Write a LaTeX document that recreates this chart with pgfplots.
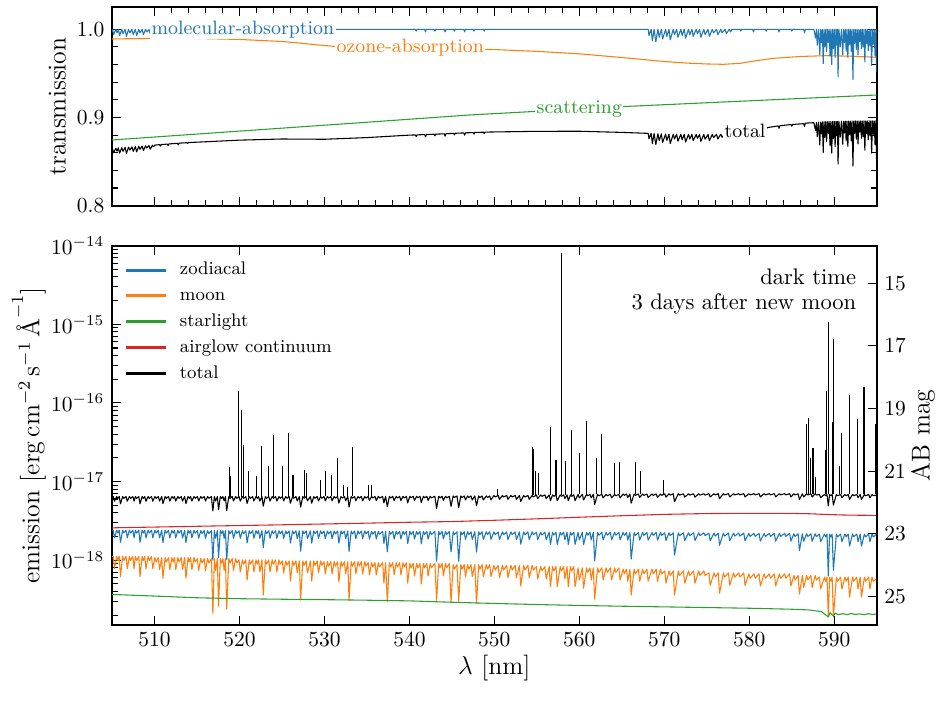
\documentclass[border=0pt]{standalone}
\usepackage{fontspec}
\usepackage{pgfplots}
\usepackage{pgfplotstable}
\pgfplotsset{compat=1.18}

\definecolor{cblue}{HTML}{1F77B4}
\definecolor{corange}{HTML}{FF7F0E}
\definecolor{cgreen}{HTML}{2CA02C}
\definecolor{cred}{HTML}{D62728}

% ---------- atmospheric transmission ----------
% molecular absorption and total transmission (ozone x scattering x molecular)
\pgfplotstableread{
l mol tot
505.00 1.000 0.8649
505.05 1.000 0.8649
505.20 0.994 0.8598
505.45 1.000 0.8652
505.60 0.996 0.8619
505.75 1.000 0.8655
505.90 0.993 0.8595
506.15 1.000 0.8658
506.30 0.995 0.8616
506.55 1.000 0.8661
506.70 0.992 0.8593
506.95 1.000 0.8664
507.10 0.996 0.8630
507.35 1.000 0.8667
507.50 0.994 0.8616
507.75 1.000 0.8670
507.90 0.993 0.8610
508.15 1.000 0.8673
508.30 0.996 0.8639
508.55 1.000 0.8676
508.70 0.994 0.8625
508.95 1.000 0.8679
509.10 0.997 0.8654
509.35 1.000 0.8682
509.50 0.995 0.8640
509.75 1.000 0.8685
509.90 0.998 0.8669
510.05 1.000 0.8687
510.60 1.000 0.8692
510.70 0.998 0.8675
510.80 1.000 0.8693
511.50 1.000 0.8698
511.60 0.998 0.8682
511.70 1.000 0.8700
512.70 1.000 0.8707
512.80 0.998 0.8690
512.90 1.000 0.8709
513.80 1.000 0.8714
513.90 0.999 0.8706
514.00 1.000 0.8716
515.00 1.000 0.8720
520.00 1.000 0.8743
525.00 1.000 0.8756
530.00 1.000 0.8753
535.00 1.000 0.8772
540.00 1.000 0.8800
540.70 1.000 0.8802
540.80 0.998 0.8785
540.90 1.000 0.8803
541.80 1.000 0.8806
541.90 0.997 0.8781
542.00 1.000 0.8807
542.90 1.000 0.8810
543.00 0.998 0.8793
543.10 1.000 0.8811
544.10 1.000 0.8815
544.20 0.997 0.8789
544.30 1.000 0.8816
545.20 1.000 0.8820
545.30 0.998 0.8803
545.40 1.000 0.8821
546.40 1.000 0.8825
546.50 0.997 0.8799
546.60 1.000 0.8826
547.50 1.000 0.8829
547.60 0.998 0.8812
547.70 1.000 0.8830
548.70 1.000 0.8833
548.80 0.998 0.8816
548.90 1.000 0.8834
550.00 1.000 0.8836
555.00 1.000 0.8843
560.00 1.000 0.8844
565.00 1.000 0.8831
568.10 1.000 0.8820
568.20 0.993 0.8758
568.45 1.000 0.8819
568.60 0.987 0.8704
568.80 1.000 0.8818
569.00 0.986 0.8694
569.25 1.000 0.8816
569.40 0.991 0.8737
569.65 1.000 0.8814
569.80 0.989 0.8717
570.15 1.000 0.8811
570.30 0.992 0.8740
570.55 1.000 0.8810
570.70 0.988 0.8704
571.05 1.000 0.8810
571.20 0.994 0.8757
571.45 1.000 0.8810
571.60 0.991 0.8731
571.95 1.000 0.8809
572.10 0.993 0.8747
572.35 1.000 0.8809
572.50 0.990 0.8721
572.85 1.000 0.8809
573.00 0.994 0.8756
573.25 1.000 0.8808
573.40 0.992 0.8738
573.75 1.000 0.8808
573.90 0.995 0.8764
574.15 1.000 0.8808
574.30 0.991 0.8729
574.65 1.000 0.8807
574.80 0.994 0.8754
575.15 1.000 0.8807
575.30 0.992 0.8737
575.65 1.000 0.8808
575.80 0.996 0.8773
576.15 1.000 0.8809
576.30 0.994 0.8756
576.65 1.000 0.8811
576.80 0.996 0.8776
577.15 1.000 0.8814
577.30 0.995 0.8774
577.65 1.000 0.8820
577.80 0.997 0.8796
577.95 1.000 0.8824
578.90 1.000 0.8836
579.00 0.998 0.8820
579.10 1.000 0.8839
580.40 1.000 0.8858
580.50 0.997 0.8833
580.60 1.000 0.8861
581.90 1.000 0.8882
582.00 0.998 0.8866
582.10 1.000 0.8885
583.40 1.000 0.8904
583.50 0.997 0.8878
583.60 1.000 0.8906
584.90 1.000 0.8920
585.00 0.998 0.8902
585.10 1.000 0.8921
586.40 1.000 0.8930
586.50 0.996 0.8899
586.60 1.000 0.8936
587.60 1.000 0.8941
587.80 0.990 0.8854
587.90 1.000 0.8944
588.00 0.982 0.8784
588.15 1.000 0.8946
588.30 0.971 0.8688
588.40 1.000 0.8948
588.50 0.985 0.8815
588.60 1.000 0.8950
588.70 0.961 0.8602
588.80 1.000 0.8952
588.90 0.980 0.8773
589.00 1.000 0.8953
589.10 0.975 0.8729
589.20 1.000 0.8953
589.30 0.985 0.8819
589.40 1.000 0.8954
589.50 0.970 0.8685
589.60 1.000 0.8954
589.70 0.960 0.8596
589.80 1.000 0.8955
589.90 0.978 0.8758
590.00 1.000 0.8955
590.10 0.968 0.8669
590.20 1.000 0.8955
590.30 0.982 0.8794
590.375 1.000 0.8956
590.45 0.946 0.8472
590.55 1.000 0.8956
590.70 0.980 0.8777
590.85 1.000 0.8957
591.00 0.971 0.8697
591.10 1.000 0.8957
591.20 0.985 0.8823
591.30 1.000 0.8958
591.40 0.975 0.8734
591.50 1.000 0.8958
591.60 0.968 0.8671
591.70 1.000 0.8959
591.80 0.983 0.8807
591.90 1.000 0.8959
592.00 0.975 0.8736
592.10 1.000 0.8960
592.20 0.943 0.8449
592.30 1.000 0.8960
592.40 0.984 0.8817
592.50 1.000 0.8960
592.60 0.977 0.8754
592.70 1.000 0.8960
592.80 0.971 0.8700
592.90 1.000 0.8960
593.00 0.986 0.8835
593.10 1.000 0.8961
593.20 0.978 0.8764
593.30 1.000 0.8961
593.40 0.980 0.8782
593.50 1.000 0.8961
593.60 0.963 0.8629
593.70 1.000 0.8961
593.80 0.984 0.8818
593.90 1.000 0.8961
594.00 0.976 0.8746
594.10 1.000 0.8962
594.20 0.981 0.8792
594.30 1.000 0.8962
594.40 0.959 0.8595
594.50 1.000 0.8962
594.60 0.983 0.8810
594.70 1.000 0.8962
594.80 0.970 0.8693
594.90 1.000 0.8962
594.97 0.952 0.8532
595.00 1.000 0.8962
}\trans

\pgfplotstableread{
l oz
505 0.9890
508 0.9895
511 0.9898
515 0.9896
520 0.9885
525 0.9862
527 0.9845
529 0.9825
531 0.9808
533 0.9800
535 0.9796
540 0.9790
545 0.9782
550 0.9770
555 0.9750
560 0.9722
565 0.9680
570 0.9635
573 0.9615
575 0.9607
577 0.9603
579 0.9615
580 0.9632
582 0.9660
583 0.9672
586 0.9692
589 0.9701
592 0.9695
595 0.9683
}\ozone

\pgfplotstableread{
l sc
505 0.8745
515 0.8812
525 0.8879
535 0.8946
547 0.9028
555 0.9070
565 0.9123
575 0.9167
585 0.9211
595 0.9255
}\scat

% ---------- sky emission, in units of 1e-18 erg/cm2/s/A ----------
% z = zodiacal light, m = scattered moonlight, t = total continuum
\pgfplotstableread[row sep=\\]{
l z m t\\
505.00 2.41 1.12 6.45\\ 505.15 2.41 1.12 6.45\\ 505.30 1.93 0.78 5.63\\
505.55 2.41 1.12 6.45\\ 505.70 2.22 0.99 6.12\\
505.85 2.41 1.12 6.45\\ 506.00 1.69 0.62 5.22\\
506.25 2.41 1.12 6.45\\ 506.40 2.22 0.99 6.12\\
506.65 2.41 1.12 6.45\\ 506.80 1.93 0.78 5.63\\
507.05 2.41 1.12 6.45\\ 507.20 2.22 0.99 6.12\\
507.45 2.41 1.12 6.45\\ 507.60 1.93 0.78 5.63\\
507.75 2.41 1.12 6.45\\ 507.90 2.22 0.99 6.12\\
508.15 2.41 1.12 6.45\\ 508.30 1.69 0.62 5.22\\
508.55 2.41 1.12 6.45\\ 508.70 2.22 0.99 6.12\\
508.85 2.41 1.12 6.45\\ 509.00 1.93 0.78 5.63\\
509.25 2.41 1.12 6.45\\ 509.40 2.22 0.99 6.12\\
509.65 2.41 1.12 6.45\\ 509.80 1.93 0.78 5.63\\
510.05 2.40 1.08 6.45\\ 510.20 2.21 0.95 6.13\\
510.45 2.40 1.08 6.45\\ 510.60 1.92 0.76 5.65\\
510.85 2.40 1.08 6.45\\ 511.00 1.68 0.59 5.24\\
511.25 2.40 1.08 6.45\\ 511.40 2.21 0.95 6.13\\
511.65 2.40 1.08 6.45\\ 511.80 1.92 0.76 5.65\\
512.05 2.40 1.08 6.45\\ 512.20 2.21 0.95 6.13\\
512.35 2.40 1.08 6.45\\ 512.50 1.92 0.76 5.65\\
512.75 2.40 1.08 6.45\\ 512.90 2.21 0.95 6.13\\
513.15 2.40 1.08 6.45\\ 513.30 1.92 0.76 5.65\\
513.55 2.40 1.08 6.45\\ 513.70 1.68 0.59 5.24\\
513.95 2.40 1.08 6.45\\ 514.10 2.21 0.95 6.13\\
514.25 2.40 1.08 6.45\\ 514.40 1.92 0.76 5.65\\
514.65 2.40 1.08 6.45\\ 514.80 2.21 0.95 6.13\\
515.05 2.38 1.05 6.45\\ 515.20 1.90 0.74 5.66\\
515.45 2.38 1.05 6.45\\ 515.60 2.19 0.92 6.13\\
515.85 2.38 1.05 6.45\\ 516.00 1.90 0.74 5.66\\
516.25 2.38 1.05 6.45\\ 516.40 2.19 0.92 6.13\\
516.70 2.38 1.05 6.45\\ 516.87 1.00 0.21 4.23\\
517.05 2.38 1.05 6.45\\ 517.20 1.90 0.74 5.66\\
517.40 2.38 1.05 6.45\\ 517.54 1.08 0.26 4.37\\
517.75 2.38 1.05 6.45\\ 517.90 2.19 0.92 6.13\\
518.05 2.38 1.05 6.45\\ 518.20 1.90 0.74 5.66\\
518.35 2.38 1.05 6.45\\ 518.50 1.02 0.24 4.27\\
518.75 2.38 1.05 6.45\\ 518.90 2.19 0.92 6.13\\
519.15 2.38 1.05 6.45\\ 519.30 1.90 0.74 5.66\\
519.55 2.38 1.05 6.45\\ 519.70 2.19 0.92 6.13\\
519.95 2.37 1.01 6.44\\ 520.10 1.90 0.71 5.66\\
520.35 2.37 1.01 6.44\\ 520.50 2.18 0.89 6.13\\
520.75 2.37 1.01 6.44\\ 520.90 1.66 0.56 5.27\\
521.15 2.37 1.01 6.44\\ 521.30 2.18 0.89 6.13\\
521.55 2.37 1.01 6.44\\ 521.70 1.90 0.71 5.66\\
521.95 2.37 1.01 6.44\\ 522.10 2.18 0.89 6.13\\
522.25 2.37 1.01 6.44\\ 522.40 1.90 0.71 5.66\\
522.65 2.37 1.01 6.44\\ 522.80 1.45 0.36 4.87\\
523.05 2.37 1.01 6.44\\ 523.20 2.18 0.89 6.13\\
523.45 2.37 1.01 6.44\\ 523.60 1.90 0.71 5.66\\
523.85 2.37 1.01 6.44\\ 524.00 2.18 0.89 6.13\\
524.25 2.37 1.01 6.44\\ 524.40 1.90 0.71 5.66\\
524.65 2.37 1.01 6.44\\ 524.80 2.18 0.89 6.13\\
525.05 2.36 0.98 6.45\\ 525.20 1.89 0.69 5.68\\
525.45 2.36 0.98 6.45\\ 525.60 2.17 0.86 6.14\\
525.85 2.36 0.98 6.45\\ 526.00 1.65 0.54 5.30\\
526.25 2.36 0.98 6.45\\ 526.40 2.17 0.86 6.14\\
526.65 2.36 0.98 6.45\\ 526.80 1.89 0.69 5.68\\
527.05 2.36 0.98 6.45\\ 527.20 1.30 0.31 4.72\\
527.45 2.36 0.98 6.45\\ 527.60 2.17 0.86 6.14\\
527.85 2.36 0.98 6.45\\ 528.00 1.89 0.69 5.68\\
528.35 2.36 0.98 6.45\\ 528.50 1.65 0.54 5.30\\
528.75 2.36 0.98 6.45\\ 528.90 2.17 0.86 6.14\\
529.15 2.36 0.98 6.45\\ 529.30 1.89 0.69 5.68\\
529.55 2.36 0.98 6.45\\ 529.70 2.17 0.86 6.14\\
529.95 2.35 0.96 6.46\\ 530.10 1.88 0.67 5.70\\
530.35 2.35 0.96 6.46\\ 530.50 2.16 0.84 6.16\\
530.75 2.35 0.96 6.46\\ 530.90 1.88 0.67 5.70\\
531.15 2.35 0.96 6.46\\ 531.30 2.16 0.84 6.16\\
531.55 2.35 0.96 6.46\\ 531.70 1.65 0.53 5.33\\
531.95 2.35 0.96 6.46\\ 532.10 2.16 0.84 6.16\\
532.35 2.35 0.96 6.46\\ 532.50 1.88 0.67 5.70\\
532.75 2.35 0.96 6.46\\ 532.90 1.29 0.31 4.75\\
533.15 2.35 0.96 6.46\\ 533.30 2.16 0.84 6.16\\
533.55 2.35 0.96 6.46\\ 533.70 1.88 0.67 5.70\\
533.95 2.35 0.96 6.46\\ 534.10 2.16 0.84 6.16\\
534.35 2.35 0.96 6.46\\ 534.50 1.88 0.67 5.70\\
534.75 2.35 0.96 6.46\\ 534.90 2.16 0.84 6.16\\
535.15 2.33 0.93 6.48\\ 535.30 1.86 0.65 5.74\\
535.55 2.33 0.93 6.48\\ 535.70 2.14 0.82 6.18\\
535.95 2.33 0.93 6.48\\ 536.10 1.86 0.65 5.74\\
536.35 2.33 0.93 6.48\\ 536.50 2.14 0.82 6.18\\
536.85 2.33 0.93 6.48\\ 537.00 1.63 0.51 5.36\\
537.20 2.33 0.93 6.48\\ 537.40 1.28 0.30 4.80\\
537.65 2.33 0.93 6.48\\ 537.80 2.14 0.82 6.18\\
538.05 2.33 0.93 6.48\\ 538.20 1.86 0.65 5.74\\
538.45 2.33 0.93 6.48\\ 538.60 2.14 0.82 6.18\\
538.85 2.33 0.93 6.48\\ 539.00 1.86 0.65 5.74\\
539.25 2.33 0.93 6.48\\ 539.40 2.14 0.82 6.18\\
539.65 2.33 0.93 6.48\\ 539.80 1.63 0.51 5.36\\
540.05 2.32 0.91 6.50\\ 540.20 2.13 0.80 6.21\\
540.45 2.32 0.91 6.50\\ 540.60 1.86 0.63 5.76\\
540.85 2.32 0.91 6.50\\ 541.00 2.13 0.80 6.21\\
541.25 2.32 0.91 6.50\\ 541.40 1.62 0.50 5.40\\
541.65 2.32 0.91 6.50\\ 541.80 2.13 0.80 6.21\\
542.05 2.32 0.91 6.50\\ 542.20 1.86 0.63 5.76\\
542.45 2.32 0.91 6.50\\ 542.60 2.13 0.80 6.21\\
543.00 2.32 0.91 6.50\\ 543.20 0.97 0.31 4.56\\
543.45 2.32 0.91 6.50\\ 543.60 2.13 0.80 6.21\\
543.85 2.32 0.91 6.50\\ 544.00 1.86 0.63 5.76\\
544.25 2.32 0.91 6.50\\ 544.40 2.13 0.80 6.21\\
544.70 2.32 0.91 6.50\\ 544.90 1.28 0.29 4.84\\
545.15 2.30 0.88 6.56\\ 545.30 2.12 0.77 6.27\\
545.60 2.30 0.88 6.56\\ 545.80 0.97 0.30 4.65\\
546.05 2.30 0.88 6.56\\ 546.20 2.12 0.77 6.27\\
546.45 2.30 0.88 6.56\\ 546.60 1.84 0.62 5.84\\
546.85 2.30 0.88 6.56\\ 547.00 2.12 0.77 6.27\\
547.25 2.30 0.88 6.56\\ 547.40 1.84 0.62 5.84\\
547.70 2.30 0.88 6.56\\ 547.90 1.27 0.28 4.93\\
548.15 2.30 0.88 6.56\\ 548.30 2.12 0.77 6.27\\
548.55 2.30 0.88 6.56\\ 548.70 1.84 0.62 5.84\\
549.05 2.30 0.88 6.56\\ 549.20 2.12 0.77 6.27\\
549.45 2.30 0.88 6.56\\ 549.60 1.84 0.62 5.84\\
549.95 2.29 0.86 6.66\\ 550.10 2.11 0.75 6.37\\
550.45 2.29 0.86 6.66\\ 550.60 1.83 0.60 5.95\\
550.95 2.29 0.86 6.66\\ 551.10 2.11 0.75 6.37\\
551.45 2.29 0.86 6.66\\ 551.60 1.83 0.60 5.95\\
551.95 2.29 0.86 6.66\\ 552.10 2.11 0.75 6.37\\
552.45 2.29 0.86 6.66\\ 552.60 1.83 0.60 5.95\\
552.95 2.29 0.86 6.66\\ 553.10 1.60 0.47 5.59\\
553.45 2.29 0.86 6.66\\ 553.60 2.11 0.75 6.37\\
553.95 2.29 0.86 6.66\\ 554.10 1.83 0.60 5.95\\
554.45 2.29 0.86 6.66\\ 554.60 2.11 0.75 6.37\\
554.95 2.27 0.83 6.77\\ 555.10 1.82 0.58 6.07\\
555.45 2.27 0.83 6.77\\ 555.60 2.09 0.73 6.49\\
555.95 2.27 0.83 6.77\\ 556.10 1.82 0.58 6.07\\
556.45 2.27 0.83 6.77\\ 556.60 1.59 0.46 5.72\\
556.85 2.27 0.83 6.77\\ 557.00 2.09 0.73 6.49\\
557.25 2.27 0.83 6.77\\ 557.40 1.59 0.46 5.72\\
557.75 2.27 0.83 6.77\\ 557.90 2.09 0.73 6.49\\
558.15 2.27 0.83 6.77\\ 558.30 1.82 0.58 6.07\\
558.55 2.27 0.83 6.77\\ 558.70 1.59 0.46 5.72\\
558.95 2.27 0.83 6.77\\ 559.10 2.09 0.73 6.49\\
559.35 2.27 0.83 6.77\\ 559.50 1.59 0.46 5.72\\
559.85 2.26 0.80 6.88\\ 560.00 1.81 0.56 6.19\\
560.35 2.26 0.80 6.88\\ 560.50 1.58 0.44 5.84\\
560.85 2.26 0.80 6.88\\ 561.00 2.08 0.70 6.60\\
561.25 2.26 0.80 6.88\\ 561.40 1.81 0.56 6.19\\
561.65 2.26 0.80 6.88\\ 561.80 0.98 0.32 5.12\\
562.15 2.26 0.80 6.88\\ 562.30 2.08 0.70 6.60\\
562.65 2.26 0.80 6.88\\ 562.80 1.81 0.56 6.19\\
563.15 2.26 0.80 6.88\\ 563.30 2.08 0.70 6.60\\
563.65 2.26 0.80 6.88\\ 563.80 1.81 0.56 6.19\\
564.15 2.26 0.80 6.88\\ 564.30 2.08 0.70 6.60\\
564.65 2.26 0.80 6.88\\ 564.80 1.81 0.56 6.19\\
565.15 2.25 0.77 6.95\\ 565.30 2.07 0.67 6.68\\
565.55 2.25 0.77 6.95\\ 565.70 1.80 0.54 6.27\\
565.95 2.25 0.77 6.95\\ 566.10 1.03 0.36 5.32\\
566.45 2.25 0.77 6.95\\ 566.60 2.07 0.67 6.68\\
566.95 2.25 0.77 6.95\\ 567.10 1.80 0.54 6.27\\
567.45 2.25 0.77 6.95\\ 567.60 2.07 0.67 6.68\\
567.95 2.25 0.77 6.95\\ 568.10 1.80 0.54 6.27\\
568.55 2.25 0.77 6.95\\ 568.70 2.07 0.67 6.68\\
569.05 2.25 0.77 6.95\\ 569.20 1.80 0.54 6.27\\
569.55 2.25 0.77 6.95\\ 569.70 2.07 0.67 6.68\\
570.05 2.23 0.73 7.00\\ 570.20 1.78 0.51 6.34\\
570.55 2.23 0.73 7.00\\ 570.70 2.05 0.64 6.73\\
571.05 2.23 0.73 7.00\\ 571.20 1.16 0.36 5.56\\
571.65 2.23 0.73 7.00\\ 571.80 2.05 0.64 6.73\\
572.25 2.23 0.73 7.00\\ 572.40 1.78 0.51 6.34\\
572.85 2.23 0.73 7.00\\ 573.00 2.05 0.64 6.73\\
573.45 2.23 0.73 7.00\\ 573.60 1.78 0.51 6.34\\
574.05 2.23 0.73 7.00\\ 574.20 2.05 0.64 6.73\\
574.65 2.23 0.73 7.00\\ 574.80 2.05 0.64 6.73\\
575.25 2.21 0.69 7.02\\ 575.40 1.77 0.48 6.37\\
575.85 2.21 0.69 7.02\\ 576.00 2.03 0.61 6.76\\
576.35 2.21 0.69 7.02\\ 576.50 1.55 0.38 6.05\\
576.95 2.21 0.69 7.02\\ 577.10 2.03 0.61 6.76\\
577.55 2.21 0.69 7.02\\ 577.70 1.77 0.48 6.37\\
578.15 2.21 0.69 7.02\\ 578.30 2.03 0.61 6.76\\
578.75 2.21 0.69 7.02\\ 578.90 2.03 0.61 6.76\\
579.35 2.21 0.69 7.02\\ 579.50 1.77 0.48 6.37\\
579.95 2.19 0.67 7.02\\ 580.10 2.01 0.59 6.77\\
580.55 2.19 0.67 7.02\\ 580.70 2.01 0.59 6.77\\
581.15 2.19 0.67 7.02\\ 581.30 1.75 0.47 6.38\\
581.75 2.19 0.67 7.02\\ 581.90 2.01 0.59 6.77\\
582.35 2.19 0.67 7.02\\ 582.50 2.01 0.59 6.77\\
582.95 2.19 0.67 7.02\\ 583.10 1.75 0.47 6.38\\
583.55 2.19 0.67 7.02\\ 583.70 2.01 0.59 6.77\\
584.15 2.19 0.67 7.02\\ 584.30 2.01 0.59 6.77\\
584.75 2.19 0.67 7.02\\ 584.90 1.75 0.47 6.38\\
585.25 2.17 0.64 7.00\\ 585.40 2.00 0.56 6.75\\
585.75 2.17 0.64 7.00\\ 585.90 1.32 0.37 5.88\\
586.25 2.17 0.64 7.00\\ 586.40 1.74 0.45 6.37\\
586.75 2.17 0.64 7.00\\ 586.90 2.00 0.56 6.75\\
587.25 2.17 0.64 7.00\\ 587.40 1.74 0.45 6.37\\
587.75 2.17 0.64 7.00\\ 587.90 2.00 0.56 6.75\\
588.25 2.15 0.61 6.85\\ 588.40 1.72 0.43 6.24\\
588.85 2.15 0.61 6.85\\ 589.00 1.98 0.54 6.61\\
589.15 2.15 0.61 6.85\\ 589.30 0.63 0.19 4.91\\
589.45 2.15 0.61 6.85\\ 589.60 1.98 0.54 6.61\\
589.75 2.15 0.61 6.85\\ 589.90 0.74 0.19 5.02\\
590.25 2.15 0.61 6.85\\ 590.40 1.98 0.54 6.61\\
590.75 2.15 0.61 6.85\\ 590.90 1.72 0.43 6.24\\
591.25 2.15 0.61 6.85\\ 591.40 1.98 0.54 6.61\\
591.65 2.15 0.61 6.85\\ 591.80 1.51 0.34 5.93\\
592.15 2.15 0.61 6.85\\ 592.30 1.98 0.54 6.61\\
592.65 2.15 0.61 6.85\\ 592.80 1.72 0.43 6.24\\
593.05 2.15 0.61 6.85\\ 593.20 1.51 0.34 5.93\\
593.55 2.15 0.61 6.85\\ 593.70 1.98 0.54 6.61\\
594.05 2.15 0.61 6.85\\ 594.20 1.72 0.43 6.24\\
594.45 2.15 0.61 6.85\\ 594.60 1.98 0.54 6.61\\
595.00 2.14 0.58 6.75\\
}\sky

% starlight, same units
\pgfplotstableread{
l s
505 0.367
510 0.350
515 0.333
520 0.324
525 0.319
530 0.315
535 0.310
540 0.304
545 0.292
550 0.282
555 0.273
560 0.266
565 0.260
570 0.255
575 0.250
580 0.245
585 0.238
587 0.233
588.5 0.222
589.3 0.190
589.5 0.215
589.9 0.195
590.1 0.212
590.5 0.203
591.0 0.209
591.5 0.203
592.0 0.210
592.5 0.204
593.0 0.208
593.5 0.203
594.0 0.209
594.5 0.204
595.0 0.207
}\starlt

% airglow continuum, same units
\pgfplotstableread{
l a
505 2.58
510 2.64
515 2.70
520 2.76
525 2.82
530 2.89
535 2.96
540 3.04
545 3.10
550 3.22
555 3.36
560 3.52
565 3.68
570 3.83
575 3.92
580 3.95
585 3.94
587 3.90
589 3.82
591 3.76
593 3.73
595 3.72
}\airglow

% airglow emission lines on top of the total continuum (erg/cm2/s/A)
\pgfplotstableread[row sep=\\]{
l t\\
518.85 6.45e-18\\ 518.85 1.52e-17\\ 518.85 nan\\
518.95 6.45e-18\\ 518.95 1.17e-17\\ 518.95 nan\\
519.94 6.44e-18\\ 519.94 1.41e-16\\ 519.94 nan\\
520.20 6.44e-18\\ 520.20 8.1e-17\\ 520.20 nan\\
520.50 6.44e-18\\ 520.50 2.9e-17\\ 520.50 nan\\
521.10 6.44e-18\\ 521.10 1.37e-17\\ 521.10 nan\\
522.00 6.44e-18\\ 522.00 1.17e-17\\ 522.00 nan\\
522.60 6.44e-18\\ 522.60 2.84e-17\\ 522.60 nan\\
523.40 6.44e-18\\ 523.40 1.57e-17\\ 523.40 nan\\
524.00 6.44e-18\\ 524.00 3.9e-17\\ 524.00 nan\\
525.10 6.45e-18\\ 525.10 1.6e-17\\ 525.10 nan\\
525.80 6.45e-18\\ 525.80 4.1e-17\\ 525.80 nan\\
526.30 6.45e-18\\ 526.30 1.2e-17\\ 526.30 nan\\
527.70 6.45e-18\\ 527.70 1.4e-17\\ 527.70 nan\\
527.85 6.45e-18\\ 527.85 1.3e-17\\ 527.85 nan\\
529.50 6.45e-18\\ 529.50 1.04e-17\\ 529.50 nan\\
530.10 6.46e-18\\ 530.10 1.35e-17\\ 530.10 nan\\
530.80 6.46e-18\\ 530.80 1.2e-17\\ 530.80 nan\\
531.50 6.46e-18\\ 531.50 1.97e-17\\ 531.50 nan\\
532.20 6.46e-18\\ 532.20 9.0e-18\\ 532.20 nan\\
532.70 6.46e-18\\ 532.70 8.5e-18\\ 532.70 nan\\
533.30 6.46e-18\\ 533.30 2.77e-17\\ 533.30 nan\\
535.20 6.48e-18\\ 535.20 9.0e-18\\ 535.20 nan\\
535.50 6.48e-18\\ 535.50 9.0e-18\\ 535.50 nan\\
550.40 6.66e-18\\ 550.40 8.0e-18\\ 550.40 nan\\
554.45 6.66e-18\\ 554.45 2.77e-17\\ 554.45 nan\\
554.65 6.66e-18\\ 554.65 2.6e-17\\ 554.65 nan\\
554.80 6.66e-18\\ 554.80 1.35e-17\\ 554.80 nan\\
555.20 6.77e-18\\ 555.20 1.28e-17\\ 555.20 nan\\
556.60 6.77e-18\\ 556.60 4.9e-17\\ 556.60 nan\\
557.25 6.77e-18\\ 557.25 1.9e-17\\ 557.25 nan\\
557.85 6.77e-18\\ 557.85 8.0e-15\\ 557.85 nan\\
558.40 6.77e-18\\ 558.40 1.85e-17\\ 558.40 nan\\
559.10 6.77e-18\\ 559.10 4.5e-17\\ 559.10 nan\\
560.00 6.88e-18\\ 560.00 2.29e-17\\ 560.00 nan\\
560.80 6.88e-18\\ 560.80 5.9e-17\\ 560.80 nan\\
562.00 6.88e-18\\ 562.00 1.97e-17\\ 562.00 nan\\
562.65 6.88e-18\\ 562.65 4.0e-17\\ 562.65 nan\\
564.15 6.88e-18\\ 564.15 1.7e-17\\ 564.15 nan\\
564.75 6.88e-18\\ 564.75 1.75e-17\\ 564.75 nan\\
566.60 6.95e-18\\ 566.60 1.8e-17\\ 566.60 nan\\
567.20 6.95e-18\\ 567.20 1.37e-17\\ 567.20 nan\\
569.90 6.95e-18\\ 569.90 1.06e-17\\ 569.90 nan\\
586.70 7.00e-18\\ 586.70 5.4e-17\\ 586.70 nan\\
587.00 7.00e-18\\ 587.00 6.5e-17\\ 587.00 nan\\
587.20 7.00e-18\\ 587.20 1.97e-17\\ 587.20 nan\\
587.50 7.00e-18\\ 587.50 2.7e-17\\ 587.50 nan\\
587.80 7.00e-18\\ 587.80 1.15e-17\\ 587.80 nan\\
589.00 6.85e-18\\ 589.00 2.5e-17\\ 589.00 nan\\
589.05 6.85e-18\\ 589.05 1.42e-16\\ 589.05 nan\\
589.35 6.85e-18\\ 589.35 1.06e-15\\ 589.35 nan\\
589.75 6.85e-18\\ 589.75 5.8e-17\\ 589.75 nan\\
589.95 6.85e-18\\ 589.95 6.45e-16\\ 589.95 nan\\
590.60 6.85e-18\\ 590.60 1.6e-17\\ 590.60 nan\\
590.90 6.85e-18\\ 590.90 4.2e-17\\ 590.90 nan\\
591.75 6.85e-18\\ 591.75 1.26e-16\\ 591.75 nan\\
592.70 6.85e-18\\ 592.70 6.2e-17\\ 592.70 nan\\
593.50 6.85e-18\\ 593.50 1.6e-16\\ 593.50 nan\\
594.85 6.85e-18\\ 594.85 5.4e-17\\ 594.85 nan\\
}\emlines

\tikzset{lab/.style={fill=white, inner sep=0.7pt, font=\fontsize{9}{10}\selectfont}}

\pgfplotsset{
  panel/.style={
    width=355.7pt, scale only axis,
    xmin=505, xmax=595, xtick={510,520,...,590},
    tick align=inside,
    major tick length=4.2pt, minor tick length=2.6pt,
    axis line style={line width=0.8pt},
    every tick/.style={black, line width=0.5pt},
    tick label style={font=\fontsize{10}{12}\selectfont},
    label style={font=\fontsize{12}{14}\selectfont},
    every axis plot/.append style={line width=0.5pt, line join=round},
  },
}

\begin{document}
\begin{tikzpicture}

% transmission panel
\begin{axis}[panel, at={(0pt,0pt)}, anchor=north west, height=92.4pt,
  ymin=0.8, ymax=1.0253, ytick={0.8,0.9,1.0},
  minor x tick num=4, minor y tick num=4,
  xticklabels={},
  yticklabel style={/pgf/number format/.cd, fixed, fixed zerofill, precision=1},
  ylabel={transmission},
  ylabel style={at={(axis description cs:-0.0605,0.5)}, anchor=base},
]
\addplot[cgreen] table[x=l, y=sc] {\scat};
\addplot[corange] table[x=l, y=oz] {\ozone};
\addplot[cblue] table[x=l, y=mol] {\trans};
\addplot[black] table[x=l, y=tot] {\trans};
\node[lab, text=cblue] at (axis cs:520.4,1.0) {molecular-absorption};
\node[lab, text=corange] at (axis cs:540.1,0.9795) {ozone-absorption};
\node[lab, text=cgreen] at (axis cs:560.0,0.9097) {scattering};
\node[lab, text=black] at (axis cs:579.5,0.8849) {total};
\end{axis}

% emission panel
\begin{axis}[panel, at={(0pt,-111.0pt)}, anchor=north west, height=176.4pt,
  ymode=log, ymin=1.503e-19, ymax=1e-14, ytick pos=left,
  xlabel={$\lambda$ [nm]},
  xlabel style={at={(axis description cs:0.5,-0.1318)}, anchor=base},
  ylabel={emission $[\mathrm{erg\,cm^{-2}\,s^{-1}}\,\mbox{\AA}^{-1}]$},
  ylabel style={at={(axis description cs:-0.0951,0.5)}, anchor=base},
  legend cell align=left,
  legend style={at={(axis description cs:0.008,0.981)}, anchor=north west,
    draw=none, fill=none, font=\fontsize{8.5}{10}\selectfont, row sep=0.3pt,
    nodes={text height=6pt, text depth=1.7pt, inner sep=2pt}},
  legend image code/.code={\draw[#1, line width=1.4pt] (0pt,0pt) -- (18.6pt,0pt); \path (22.6pt,0pt);},
]
\addplot[cblue] table[x=l, y expr=\thisrow{z}*1e-18] {\sky};
\addlegendentry{zodiacal}
\addplot[corange] table[x=l, y expr=\thisrow{m}*1e-18] {\sky};
\addlegendentry{moon}
\addplot[cgreen] table[x=l, y expr=\thisrow{s}*1e-18] {\starlt};
\addlegendentry{starlight}
\addplot[cred] table[x=l, y expr=\thisrow{a}*1e-18] {\airglow};
\addlegendentry{airglow continuum}
\addplot[black] table[x=l, y expr=\thisrow{t}*1e-18] {\sky};
\addlegendentry{total}
\addplot[black, forget plot, unbounded coords=jump] table[x=l, y=t] {\emlines};
\node[anchor=north east, align=right, inner sep=0pt, font=\fontsize{10.5}{11.8}\selectfont]
  at (rel axis cs:0.9738,0.9404) {dark time\\3 days after new moon};
\end{axis}

% AB magnitude scale on the right
\begin{axis}[at={(0pt,-111.0pt)}, anchor=north west, width=355.7pt, height=176.4pt,
  scale only axis, xmin=505, xmax=595, ymin=13.80, ymax=25.91, y dir=reverse,
  axis x line=none, axis y line*=right,
  ytick={15,17,...,25}, ytick align=inside,
  major tick length=4.2pt,
  axis line style={line width=0.8pt},
  every tick/.style={black, line width=0.5pt},
  tick label style={font=\fontsize{10}{12}\selectfont},
  ylabel={AB mag},
  ylabel style={font=\fontsize{12}{14}\selectfont, at={(axis description cs:1.069,0.5)}, anchor=base, rotate=0},
]
\end{axis}

\pgfresetboundingbox
\useasboundingbox (-52.09pt,3.26pt) rectangle (385.12pt,-327.44pt);
\end{tikzpicture}
\end{document}
